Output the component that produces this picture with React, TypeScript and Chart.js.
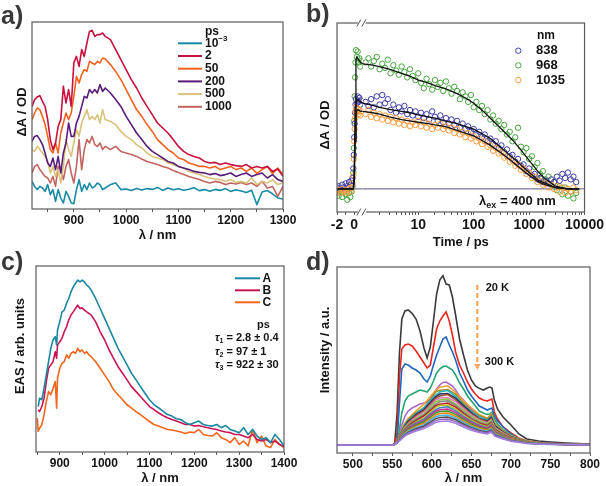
import React, { useEffect, useRef } from 'react';
import { Chart, registerables } from 'chart.js';

Chart.register(...registerables);

const FONT = "'Liberation Sans', Arial, Helvetica, sans-serif";
const INK = '#141414';
const FRAME = '#5a5a5a';

// ---------------- (a) transient spectra ----------------
const aWavelength = [820, 825, 830, 835, 840, 845, 850, 855, 860, 865, 870, 875, 880, 885, 890, 895, 900, 905, 910, 915, 920, 925, 930, 935, 940, 945, 950, 955, 960, 970, 980, 990, 1000, 1010, 1020, 1030, 1040, 1050, 1060, 1070, 1080, 1090, 1100, 1110, 1120, 1130, 1140, 1150, 1160, 1170, 1180, 1190, 1200, 1210, 1220, 1230, 1240, 1250, 1260, 1270, 1280, 1290, 1300];
const aTicks = [850, 900, 950, 1000, 1050, 1100, 1150, 1200, 1250, 1300];
const aLegend = ['10^-3', '2', '50', '200', '500', '1000'];
const aColors = ['#178aa6', '#c8103e', '#f4611f', '#591c78', '#d9c27c', '#c2645f'];
const aDelay0001 = [13.8, 11.3, 9.7, 11.3, 10.5, 8.8, 12.2, 7.2, 9.7, 3.8, 9.7, 5.5, 3.0, 8.8, 6.3, 3.0, 2.7, 9.7, 14.7, 8.8, 12.2, 9.7, 13, 10.5, 11.3, 13, 12.2, 9.7, 10.5, 12.2, 13, 9.7, 10, 9.2, 10.3, 9.5, 10.2, 9.8, 10.8, 9.3, 10.5, 9.6, 10.1, 9.4, 9.9, 10.6, 9.2, 9.7, 8.9, 9.8, 9.3, 10.2, 8.8, 9.6, 9.0, 8.2, 9.4, 2.2, 8.5, 9.2, 7.6, 5.5, 5.0];
const aDelay2 = [51.3, 54.7, 56, 56.7, 53.8, 51.3, 44.7, 34.7, 29.7, 33, 41.3, 44.7, 61.3, 53, 59.7, 51.3, 73, 76.3, 71.3, 79.7, 76.3, 83, 88.8, 89.3, 86.3, 87.2, 87.2, 88, 86.3, 84.7, 79.7, 74.7, 69.7, 64.7, 60.5, 55.5, 51.3, 47.2, 43, 40.5, 38, 34.7, 31.3, 28.8, 27.2, 26.3, 25.5, 23.8, 23, 23.3, 22.2, 23, 22.2, 21.7, 21.3, 22.2, 20.5, 21.3, 20.5, 21.3, 18.8, 20, 16.3];
const aDelay50 = [44.7, 48, 50.5, 49.7, 46.3, 42.2, 36.3, 29.7, 28, 33, 28, 38, 43, 48, 44.7, 48, 56.3, 66.3, 63, 67.2, 69.7, 68.8, 73.8, 73, 72.2, 73.8, 73, 75.5, 75, 72.2, 68.8, 64.7, 59.7, 54.7, 49.7, 46.3, 42.2, 38.8, 34.7, 32.2, 29.7, 28, 25.5, 24.7, 23, 22.2, 21.3, 21.3, 20.5, 21.3, 19.7, 20.5, 21.3, 19.7, 20.5, 18.8, 20.5, 17.8, 19.7, 21.3, 17.8, 20.5, 17.2];
const aDelay200 = [33.8, 36.3, 36.7, 34.7, 32.2, 28, 23, 21.3, 25.5, 19.7, 26.3, 18, 28, 33, 43, 36.3, 36.3, 43, 46.3, 51.3, 56.3, 55.5, 59.7, 58, 59.7, 58, 62.2, 58.8, 60.5, 58, 54.7, 51.3, 46.3, 42.2, 38, 34.7, 31.3, 28.8, 27.2, 25.5, 23.8, 23, 21.3, 20.5, 19.7, 18.8, 18.3, 18, 17.2, 17.7, 16.7, 17.2, 18, 16.3, 17.2, 18, 16.3, 17.2, 18, 15.5, 17.2, 14.7, 13.8];
const aDelay500 = [29.7, 28.8, 31.3, 29.7, 28, 26.3, 23.8, 18, 21.3, 16.3, 19.7, 13, 21.3, 34.7, 29.7, 26.3, 33, 39.7, 36.3, 43, 46.3, 49.7, 44.7, 46.3, 44.7, 47.2, 43, 49.7, 44.7, 43.8, 42.2, 38.8, 36.3, 34.7, 32.2, 30.5, 28, 26.3, 25.5, 24.7, 23, 22.2, 21.3, 20.5, 18.8, 18, 17.2, 16.3, 15.5, 15, 14.7, 13.8, 14.7, 13.3, 13.8, 13, 15.5, 12.2, 13.8, 13, 14.7, 12.2, 13];
const aDelay1000 = [18, 21.3, 22.2, 19.7, 18, 16.3, 15.5, 13, 16.3, 11.3, 21.3, 19.7, 14.7, 21.3, 24.7, 18, 13, 21.3, 34.7, 19.7, 29.7, 34.7, 33, 36.3, 32.2, 31.3, 33, 29.7, 31.3, 29.7, 31.3, 28.8, 28, 27.2, 26.3, 25, 23.8, 23, 22.2, 21.3, 20.5, 19.3, 18.3, 17.2, 16.3, 15.5, 14.7, 13.8, 13, 13.8, 13.3, 12.2, 13, 12.5, 13.3, 12.2, 13, 11.3, 13.8, 10.5, 11.3, 6.3, 11.3];

// ---------------- (b) kinetics ----------------
const bTimeLin = [-2, -1.8, -1.6, -1.4, -1.2, -1.0, -0.8, -0.6, -0.45, -0.3, -0.2, -0.1, -0.05, 0, 0.05, 0.1, 0.15, 0.2, 0.3, 0.4, 0.5, 0.6, 0.7, 0.85];
const b838Lin = [0.01, 0.02, 0.00, 0.03, 0.01, 0.04, 0.02, 0.05, 0.03, 0.06, 0.08, 0.15, 0.25, 0.38, 0.48, 0.56, 0.62, 0.66, 0.63, 0.68, 0.64, 0.67, 0.62, 0.65];
const b968Lin = [-0.03, -0.05, -0.01, -0.06, -0.02, -0.04, -0.08, -0.03, -0.06, -0.02, 0.02, 0.12, 0.3, 0.5, 0.68, 0.82, 0.93, 1.02, 0.97, 1.01, 0.93, 0.96, 0.90, 0.94];
const b1035Lin = [-0.02, -0.01, -0.03, 0.00, -0.02, -0.01, -0.03, 0.00, -0.02, 0.01, 0.04, 0.10, 0.22, 0.35, 0.44, 0.52, 0.57, 0.60, 0.56, 0.59, 0.55, 0.58, 0.54, 0.57];
const bTimeLog = [1.12, 1.26, 1.41, 1.58, 1.78, 2.0, 2.24, 2.51, 2.82, 3.16, 3.55, 3.98, 4.47, 5.01, 5.62, 6.31, 7.08, 7.94, 8.91, 10, 11.2, 12.6, 14.1, 15.8, 17.8, 20, 22.4, 25.1, 28.2, 31.6, 35.5, 39.8, 44.7, 50.1, 56.2, 63.1, 70.8, 79.4, 89.1, 100, 112, 126, 141, 158, 178, 200, 224, 251, 282, 316, 355, 398, 447, 501, 562, 631, 708, 794, 891, 1000, 1122, 1259, 1413, 1585, 1778, 1995, 2239, 2512, 2818, 3162, 3548, 3981, 4467, 5012, 5623, 6310, 7079];
const b968Log = [0.93, 0.96, 0.90, 0.94, 0.97, 0.88, 0.92, 0.89, 0.95, 0.85, 0.91, 0.87, 0.84, 0.90, 0.86, 0.82, 0.88, 0.83, 0.80, 0.85, 0.78, 0.74, 0.81, 0.77, 0.73, 0.80, 0.75, 0.78, 0.72, 0.79, 0.74, 0.70, 0.75, 0.72, 0.66, 0.71, 0.68, 0.64, 0.69, 0.60, 0.64, 0.58, 0.61, 0.55, 0.58, 0.51, 0.54, 0.48, 0.50, 0.44, 0.47, 0.40, 0.42, 0.35, 0.38, 0.45, 0.31, 0.27, 0.30, 0.22, 0.24, 0.16, 0.19, 0.11, 0.13, 0.07, 0.09, 0.03, 0.05, -0.01, 0.02, -0.04, 0.01, -0.05, -0.02, -0.07, -0.03];
const b838Log = [0.64, 0.61, 0.66, 0.60, 0.68, 0.62, 0.69, 0.63, 0.66, 0.58, 0.62, 0.56, 0.60, 0.57, 0.61, 0.55, 0.58, 0.54, 0.57, 0.53, 0.56, 0.52, 0.55, 0.51, 0.57, 0.53, 0.50, 0.54, 0.49, 0.52, 0.48, 0.51, 0.47, 0.50, 0.45, 0.48, 0.44, 0.46, 0.42, 0.44, 0.40, 0.42, 0.38, 0.40, 0.35, 0.37, 0.33, 0.35, 0.30, 0.32, 0.27, 0.29, 0.24, 0.25, 0.20, 0.22, 0.17, 0.18, 0.13, 0.15, 0.10, 0.11, 0.07, 0.08, 0.05, 0.06, 0.04, 0.07, 0.05, 0.09, 0.06, 0.11, 0.08, 0.12, 0.07, 0.09, 0.05];
const b1035Log = [0.55, 0.58, 0.53, 0.56, 0.52, 0.55, 0.51, 0.54, 0.50, 0.53, 0.49, 0.52, 0.48, 0.51, 0.47, 0.50, 0.46, 0.49, 0.47, 0.50, 0.46, 0.49, 0.45, 0.48, 0.44, 0.47, 0.45, 0.48, 0.44, 0.46, 0.43, 0.45, 0.41, 0.44, 0.40, 0.42, 0.38, 0.41, 0.37, 0.39, 0.35, 0.37, 0.33, 0.35, 0.31, 0.32, 0.28, 0.30, 0.26, 0.27, 0.23, 0.24, 0.20, 0.21, 0.17, 0.18, 0.14, 0.15, 0.11, 0.12, 0.08, 0.09, 0.05, 0.06, 0.03, 0.04, 0.01, 0.03, 0.00, 0.02, -0.02, 0.01, -0.03, 0.00, -0.02, 0.01, -0.01];
const bFitTimeLin = [-2, -0.1, 0, 0.1, 0.2, 0.3, 0.5, 0.75, 1.0];
const bFit838Lin = [0, 0, 0.08, 0.4, 0.62, 0.66, 0.65, 0.64, 0.63];
const bFit968Lin = [0, 0, 0.1, 0.6, 0.95, 0.97, 0.95, 0.93, 0.92];
const bFit1035Lin = [0, 0, 0.06, 0.35, 0.55, 0.58, 0.58, 0.57, 0.57];
const bFitTimeLog = [1, 1.5, 2, 3, 5, 7, 10, 15, 20, 30, 50, 70, 100, 150, 200, 300, 500, 700, 1000, 1500, 2000, 3000, 5000, 8000];
const bFit838Log = [0.63, 0.615, 0.60, 0.585, 0.57, 0.56, 0.545, 0.53, 0.52, 0.50, 0.48, 0.46, 0.44, 0.40, 0.37, 0.31, 0.23, 0.18, 0.12, 0.06, 0.04, 0.01, 0.0, 0.0];
const bFit968Log = [0.92, 0.91, 0.90, 0.88, 0.85, 0.83, 0.80, 0.78, 0.76, 0.74, 0.70, 0.67, 0.63, 0.57, 0.52, 0.45, 0.36, 0.29, 0.21, 0.12, 0.07, 0.02, 0.0, 0.0];
const bFit1035Log = [0.57, 0.56, 0.55, 0.53, 0.51, 0.50, 0.49, 0.48, 0.47, 0.46, 0.43, 0.41, 0.39, 0.35, 0.32, 0.27, 0.20, 0.15, 0.10, 0.05, 0.03, 0.01, 0.0, 0.0];
const bZeroLin = [-2, 1];
const bZeroLog = [1, 10000];
const bZeroValues = [0, 0];
const bLinTicks = [-2, -1, 0];
const bLinLabels = [-2, 0];
const bLogTicks = [2, 3, 4, 5, 6, 7, 8, 9, 10, 20, 30, 40, 50, 60, 70, 80, 90, 100, 200, 300, 400, 500, 600, 700, 800, 900, 1000, 2000, 3000, 4000, 5000, 6000, 7000, 8000, 9000, 10000];
const bLogLabels = [10, 100, 1000, 10000];
const bLegend = ['838', '968', '1035'];
const bColors = ['#3b3ba6', '#46a53c', '#fb9a3c'];

// ---------------- (c) EAS ----------------
const cWavelength = [850, 852, 855, 860, 865, 870, 875, 880, 885, 890, 893, 895, 900, 905, 910, 915, 920, 925, 930, 935, 940, 945, 950, 955, 960, 965, 970, 980, 990, 1000, 1010, 1020, 1030, 1040, 1050, 1060, 1070, 1080, 1090, 1100, 1110, 1120, 1130, 1140, 1150, 1160, 1170, 1180, 1190, 1200, 1210, 1220, 1230, 1240, 1250, 1260, 1270, 1280, 1290, 1300, 1310, 1320, 1330, 1340, 1350, 1360, 1370, 1380, 1390, 1400];
const cTicks = [850, 900, 950, 1000, 1050, 1100, 1150, 1200, 1250, 1300, 1350, 1400];
const cLegend = ['A', 'B', 'C'];
const cColors = ['#1a86a2', '#c81452', '#f2661e'];
const cEasA = [null, 22.8, 27, 26.2, 32, 38.7, 45.3, 52, 56.2, 57.8, 53.7, 61.2, 65.3, 70.3, 71.2, 74.5, 77, 80.3, 82.8, 84.5, 86.2, 85.3, 86.2, 85.3, 83.7, 82.8, 81.2, 77, 72, 67, 62, 57, 52, 47.8, 43.7, 39.5, 36.2, 32.8, 29.5, 26.2, 23.8, 22.2, 20.5, 18.8, 18, 16.7, 16.3, 14.7, 13.8, 14.7, 15.5, 13.8, 13.3, 13, 13.8, 12.2, 13.3, 11.3, 10.5, 9.7, 12.2, 8.8, 11.3, 8, 6.3, 7.2, 4.7, 8.8, 6.3, 3];
const cEasB = [null, 21.2, 20.3, 22.8, 27, 35.3, 42, 43.7, 45.3, 50.3, 47, 53.7, 55.3, 57, 60.3, 62.8, 66.2, 68.7, 70.3, 72, 73.7, 72, 72.3, 71.2, 70.3, 69.5, 68.7, 65.3, 60.3, 56.2, 51.2, 47, 42.8, 39.5, 36.2, 32.8, 30.3, 27.8, 25.3, 22.8, 21.3, 19.7, 18.3, 17.2, 16.3, 15.5, 14.7, 13.8, 13.8, 13, 13.3, 12.7, 12.2, 11.7, 11.3, 10.5, 10, 9.7, 8.8, 8.8, 8, 7.2, 8.8, 6.3, 5.5, 6.3, 4.7, 5.5, 3.8, 2.7];
const cEasC = [17, 10.3, 12, 13.7, 18.7, 25.3, 30.3, 28.7, 32, 35.3, 22, 37, 42, 44.5, 45.3, 48.7, 47, 49.5, 50.3, 49.5, 52, 50.3, 51.2, 49.5, 50.3, 48.7, 47.8, 45.3, 42, 38.7, 35.3, 31.2, 28.7, 26.2, 23.7, 22, 20.3, 18.7, 17, 15.3, 13.8, 13, 12.2, 11.3, 11, 10.5, 10, 9.3, 10, 9.7, 11.3, 8.8, 8.3, 8, 9.7, 7.2, 6.3, 4.7, 7.2, 3.8, 5.5, 3, 11.3, 4.7, 8, 3, 2.2, 6.3, 3.8, 2.2];
const cLifetimes = [
  { sub: '1', text: ' = 2.8 \u00b1 0.4' },
  { sub: '2', text: ' = 97 \u00b1 1' },
  { sub: '3', text: ' = 922 \u00b1 30' },
];

// ---------------- (d) PL vs temperature ----------------
const dFine = [480, 550, 553, 556, 559, 562, 566, 570, 575, 580, 585, 590, 594, 598, 602, 606, 610, 614, 618, 622, 626, 630, 635, 640, 645, 650, 655, 660, 665, 670, 673, 676, 679, 683, 690, 700, 710, 720, 735, 750, 770, 800];
const dCoarse = [480, 552, 556, 560, 565, 570, 575, 580, 590, 600, 605, 610, 620, 630, 640, 650, 660, 670, 675, 680, 690, 700, 720, 740, 770, 800];
const dTicks = [500, 525, 550, 575, 600, 625, 650, 675, 700, 725, 750, 775, 800];
const dMain = [
  { color: '#3a3a3a', y: [4.0, 4.0, 5.0, 20, 50, 67, 71, 71.5, 69.8, 67, 61, 52.5, 47.5, 53, 66, 79.5, 86.5, 88.7, 84.5, 84, 78, 69, 57, 49, 41.5, 36.5, 33.5, 32.3, 31.5, 32.5, 33, 32.5, 26.5, 22, 18, 14, 9.5, 7, 6, 5.5, 5, 4.5] },
  { color: '#e8261f', y: [4.0, 4.0, 4.3, 10, 38, 52, 54, 54.5, 53.5, 51, 48, 45, 42.5, 44, 53, 62, 66, 68.5, 70.5, 66, 59, 50.5, 44, 40, 35.5, 32, 29.5, 27.5, 26.5, 26, 26.5, 27, 20.5, 17, 13, 10, 7.5, 6, 5.2, 5, 4.6, 4.3] },
  { color: '#1f66c0', y: [4.0, 4.0, 4.2, 6, 25, 42, 44.5, 44, 42.5, 41.5, 40, 37, 35.5, 38.5, 44, 49, 53, 57, 58, 54, 50.5, 46.5, 40, 36, 31.5, 28.5, 26, 23.5, 22.5, 21.5, 22, 22.5, 18.5, 16, 13, 9.5, 7, 5.8, 5, 4.8, 4.5, 4.2] },
  { color: '#27a36f', y: [4.0, 4.0, 4.2, 5.5, 12, 20, 26, 28.5, 29.5, 30.5, 31.5, 31, 30.5, 32.5, 36, 40, 42, 43.2, 43.5, 42.5, 41.5, 39, 35, 32, 28.5, 26, 23.5, 21, 20, 19.3, 19.5, 20.5, 17, 14.5, 11.5, 9, 7, 5.8, 5, 4.6, 4.4, 4.2] },
  { color: '#a868cc', y: [4.0, 4.0, 4.2, 5, 9, 14, 18.5, 21, 22.5, 23.5, 24.5, 25, 25.5, 27, 29.5, 32, 34, 35.3, 35.5, 34.5, 33.5, 31.5, 28.5, 26.5, 24, 22, 20, 18.5, 17.5, 17, 17.5, 18.5, 15, 13, 10.5, 8.5, 6.8, 5.6, 5, 4.6, 4.4, 4.2] },
];
const dMinor = [
  { color: '#f0a030', y: [4, 4, 6.4, 9.9, 14.6, 17.3, 19.0, 21.1, 24.4, 29.1, 31.4, 32.9, 33.6, 30.4, 26.1, 22.6, 19.3, 17.4, 19.6, 14.6, 11.2, 8.7, 6.1, 4.9, 4.4, 4.1] },
  { color: '#a08a20', y: [4, 4, 6.2, 9.6, 13.5, 16.6, 18.9, 20.2, 22.7, 27.8, 30.6, 31.4, 31.8, 29.4, 25, 21.1, 18.6, 17.1, 18.9, 14.1, 11, 8.3, 6, 4.8, 4.4, 4.1] },
  { color: '#20b8c8', y: [4, 4, 6.0, 9.4, 13.7, 16.2, 17.8, 19.7, 22.6, 27, 29.1, 30.5, 31.2, 28.3, 24.0, 20.7, 18.2, 16.4, 18.2, 13.7, 10.6, 8.3, 5.9, 4.8, 4.4, 4.1] },
  { color: '#2c2c60', y: [4, 4, 6.1, 9.2, 13.1, 15.9, 17.5, 19.3, 21.7, 26.1, 28.2, 29.5, 29.8, 27.4, 23.7, 20.1, 17.3, 16, 17.8, 13.4, 10.5, 8.2, 5.8, 4.8, 4.4, 4.1] },
  { color: '#a0522d', y: [4, 4, 5.8, 9, 12.8, 15.1, 17, 18.7, 21, 25.3, 27.3, 28.5, 29.2, 26.5, 22.6, 19.5, 17.2, 15.5, 17.2, 13, 10.3, 8, 5.8, 4.8, 4.4, 4.1] },
  { color: '#e377c2', y: [4, 4, 5.9, 8.8, 12.4, 14.6, 16.5, 17.9, 20.5, 24.4, 26.4, 27.5, 27.8, 25.6, 22.2, 18.9, 16.4, 15, 16.7, 12.6, 10, 7.8, 5.7, 4.7, 4.4, 4.1] },
  { color: '#8cc63f', y: [4, 4, 5.8, 8.6, 12.1, 14.4, 15.8, 17.3, 19.6, 23.8, 25.6, 26.5, 27, 24.5, 21.3, 18.3, 16, 14.6, 16.2, 12.3, 9.8, 7.7, 5.6, 4.7, 4.3, 4.1] },
  { color: '#808080', y: [4, 4, 5.8, 8.4, 11.7, 13.9, 15.6, 16.8, 19, 22.7, 24.5, 25.6, 26.1, 23.8, 20.5, 17.6, 15.3, 14.1, 15.6, 11.9, 9.5, 7.5, 5.5, 4.7, 4.3, 4.1] },
  { color: '#b22222', y: [4, 4, 5.7, 8.2, 11.4, 13.3, 14.9, 16.2, 18.5, 21.9, 23.7, 24.4, 25, 22.9, 19.8, 16.8, 14.9, 13.7, 15.1, 11.6, 9.3, 7.4, 5.5, 4.6, 4.3, 4.1] },
  { color: '#bcbd22', y: [4, 4, 5.6, 8, 11, 13, 14.2, 15.6, 17.6, 21, 22.8, 23.7, 24, 22, 19, 16.4, 14.4, 13.2, 14.6, 11.2, 9, 7.2, 5.4, 4.6, 4.3, 4.1] },
  { color: '#3f7fbf', y: [4, 4, 5.5, 7.8, 10.7, 12.6, 13.9, 15.1, 16.9, 20.2, 21.7, 22.6, 23.1, 21.1, 18.3, 15.8, 13.9, 12.7, 14.1, 10.8, 8.8, 7, 5.3, 4.6, 4.3, 4.1] },
  { color: '#d62798', y: [4, 4, 5.4, 7.6, 10.3, 12.1, 13.4, 14.4, 16.2, 19.3, 20.9, 21.6, 22, 20.2, 17.5, 15.2, 13.4, 12.3, 13.6, 10.5, 8.5, 6.9, 5.3, 4.5, 4.3, 4.1] },
  { color: '#2ca02c', y: [4, 4, 5.4, 7.4, 10, 11.7, 12.8, 13.9, 15.6, 18.5, 20, 20.7, 21, 19.3, 16.8, 14.5, 12.8, 11.8, 13, 10.1, 8.3, 6.7, 5.2, 4.5, 4.3, 4.1] },
  { color: '#ff7f0e', y: [4, 4, 5.3, 7.2, 9.6, 11.2, 12.3, 13.3, 14.9, 17.6, 19, 19.7, 20, 18.4, 16, 13.9, 12.3, 11.4, 12.5, 9.8, 8, 6.6, 5.1, 4.5, 4.2, 4.1] },
  { color: '#41b6e6', y: [4, 4, 5.2, 7, 9.3, 10.8, 11.8, 12.7, 14.2, 16.8, 18.1, 18.7, 19, 17.5, 15.3, 13.3, 11.8, 10.9, 12, 9.4, 7.8, 6.4, 5.1, 4.5, 4.2, 4.1] },
  { color: '#505050', y: [4, 4, 5.1, 6.8, 8.9, 10.3, 11.3, 12.1, 13.5, 15.9, 17.2, 17.7, 18, 16.6, 14.5, 12.7, 11.3, 10.4, 11.5, 9, 7.5, 6.2, 5, 4.4, 4.2, 4.1] },
  { color: '#9467bd', y: [4, 4, 5, 6.6, 8.6, 9.9, 10.8, 11.5, 12.8, 15.1, 16.2, 16.7, 17, 15.7, 13.8, 12.1, 10.8, 10, 11, 8.7, 7.3, 6.1, 4.9, 4.4, 4.2, 4.1] },
  { color: '#a27ee0', y: [4, 4, 5, 6.4, 8.2, 9.4, 10.2, 11, 12.2, 14.2, 15.3, 15.8, 16, 14.8, 13, 11.4, 10.2, 9.5, 10.4, 8.3, 7, 5.9, 4.8, 4.4, 4.2, 4.1] },
];
const dArrow = { wavelength: 657.5, from: 84, to: 41.5 };
const dTempLabels = [
  { text: '20 K', wavelength: 668, value: 82.7 },
  { text: '300 K', wavelength: 667, value: 45.3 },
];

// ---------------- helpers ----------------
const pts = (xs: number[], ys: (number | null)[]) => xs.map((x, i) => ({ x, y: ys[i] === undefined ? null : ys[i] }));

type Part = { t: string; sub?: boolean; sup?: boolean; italic?: boolean };

function richText(ctx: CanvasRenderingContext2D, x: number, y: number, parts: Part[], size: number, align: 'left' | 'center' | 'right' = 'left') {
  const fontFor = (p: Part) => `${p.italic ? 'italic ' : ''}bold ${p.sub || p.sup ? Math.round(size * 0.68) : size}px ${FONT}`;
  let total = 0;
  for (const p of parts) {
    ctx.font = fontFor(p);
    total += ctx.measureText(p.t).width;
  }
  let cx = align === 'center' ? x - total / 2 : align === 'right' ? x - total : x;
  ctx.textAlign = 'left';
  ctx.textBaseline = 'middle';
  ctx.fillStyle = INK;
  for (const p of parts) {
    ctx.font = fontFor(p);
    const dy = p.sub ? size * 0.32 : p.sup ? -size * 0.36 : 0;
    ctx.fillText(p.t, cx, y + dy);
    cx += ctx.measureText(p.t).width;
  }
}

function drawFrame(chart: any) {
  const { ctx, chartArea: a } = chart;
  ctx.save();
  ctx.strokeStyle = FRAME;
  ctx.lineWidth = 1.2;
  ctx.strokeRect(a.left, a.top, a.right - a.left, a.bottom - a.top);
  ctx.restore();
}

function drawYTitle(ctx: CanvasRenderingContext2D, text: string, x: number, y: number) {
  ctx.save();
  ctx.translate(x, y);
  ctx.rotate(-Math.PI / 2);
  ctx.font = `bold 13px ${FONT}`;
  ctx.fillStyle = INK;
  ctx.textAlign = 'center';
  ctx.textBaseline = 'middle';
  ctx.fillText(text, 0, 0);
  ctx.restore();
}

function decor(id: string, draw: (chart: any) => void) {
  return {
    id,
    afterDraw: (chart: any) => {
      chart.ctx.save();
      draw(chart);
      chart.ctx.restore();
    },
  };
}

function bottomAxis(min: number, max: number, ticks: number[], label: (v: number) => string, height: number, fontSize: number, pad: number, title?: string): any {
  return {
    type: 'linear',
    position: 'bottom',
    min,
    max,
    afterBuildTicks: (s: any) => {
      s.ticks = ticks.map((value) => ({ value }));
    },
    afterFit: (s: any) => {
      s.height = height;
    },
    ticks: {
      autoSkip: false,
      maxRotation: 0,
      minRotation: 0,
      padding: pad,
      color: INK,
      font: { family: FONT, size: fontSize, weight: 'bold' },
      callback: (v: any) => label(Number(v)),
    },
    grid: { display: true, drawOnChartArea: false, drawTicks: true, tickLength: 3, tickWidth: 1, color: FRAME, lineWidth: 1 },
    border: { display: false },
    title: title
      ? { display: true, text: title, color: INK, font: { family: FONT, size: 13, weight: 'bold' }, padding: { top: 0, bottom: 0 } }
      : { display: false },
  };
}

function leftAxis(min: number, max: number, width: number): any {
  return {
    type: 'linear',
    position: 'left',
    min,
    max,
    ticks: { display: false },
    grid: { display: false },
    border: { display: false },
    title: { display: false },
    afterFit: (s: any) => {
      s.width = width;
    },
  };
}

function common(padding: any): any {
  return {
    responsive: false,
    maintainAspectRatio: false,
    animation: false,
    devicePixelRatio: 1,
    events: [],
    layout: { padding },
    plugins: { legend: { display: false }, tooltip: { enabled: false }, title: { display: false } },
  };
}

// ---------------- chart builders ----------------
function buildA(): any {
  const series = [aDelay0001, aDelay2, aDelay50, aDelay200, aDelay500, aDelay1000];
  return {
    type: 'line',
    data: {
      datasets: series.map((ys, i) => ({
        label: aLegend[i],
        data: pts(aWavelength, ys),
        borderColor: aColors[i],
        borderWidth: 1.6,
        borderJoinStyle: 'round',
        pointRadius: 0,
        tension: 0,
        fill: false,
      })),
    },
    options: {
      ...common({ top: 22, right: 20, left: 0, bottom: 0 }),
      scales: {
        x: bottomAxis(820, 1300, aTicks, (v) => (v % 100 === 0 ? String(v) : ''), 34, 12, 1, '\u03bb / nm'),
        y: leftAxis(0, 93.5, 32),
      },
    },
    plugins: [
      decor('decorA', (chart) => {
        const ctx = chart.ctx as CanvasRenderingContext2D;
        drawFrame(chart);
        drawYTitle(ctx, '\u0394A / OD', 22, 112);
        richText(ctx, 205, 32, [{ t: 'ps' }], 12);
        aLegend.forEach((lab, i) => {
          const y = 43.3 + i * 12.7;
          ctx.strokeStyle = aColors[i];
          ctx.lineWidth = 2;
          ctx.beginPath();
          ctx.moveTo(178, y);
          ctx.lineTo(202, y);
          ctx.stroke();
          if (lab.includes('^')) {
            const [base, exp] = lab.split('^');
            richText(ctx, 205, y, [{ t: base }, { t: exp.replace('-', '\u2212'), sup: true }], 12);
          } else {
            richText(ctx, 205, y, [{ t: lab }], 12);
          }
        });
      }),
    ],
  };
}

function buildB(): any {
  const mk = (xs: number[], ys: number[]) => xs.map((x, i) => ({ x, y: ys[i] }));
  const pointDs = (label: string, color: string, xs: number[], ys: number[], axis: string, order: number) => ({
    label,
    data: mk(xs, ys),
    xAxisID: axis,
    yAxisID: 'y',
    showLine: false,
    pointStyle: 'circle',
    pointRadius: 2.7,
    pointBorderWidth: 1,
    pointBorderColor: color,
    pointBackgroundColor: 'rgba(0,0,0,0)',
    borderColor: color,
    backgroundColor: 'rgba(0,0,0,0)',
    order,
  });
  const lineDs = (xs: number[], ys: number[], axis: string, color: string, width: number, order: number) => ({
    data: mk(xs, ys),
    xAxisID: axis,
    yAxisID: 'y',
    showLine: true,
    pointRadius: 0,
    borderColor: color,
    borderWidth: width,
    fill: false,
    order,
  });
  const datasets = [
    lineDs(bFitTimeLin, bFit968Lin, 'x0', '#111111', 1.3, 0),
    lineDs(bFitTimeLog, bFit968Log, 'x1', '#111111', 1.3, 0),
    lineDs(bFitTimeLin, bFit838Lin, 'x0', '#111111', 1.3, 0),
    lineDs(bFitTimeLog, bFit838Log, 'x1', '#111111', 1.3, 0),
    lineDs(bFitTimeLin, bFit1035Lin, 'x0', '#111111', 1.3, 0),
    lineDs(bFitTimeLog, bFit1035Log, 'x1', '#111111', 1.3, 0),
    pointDs(bLegend[2], bColors[2], bTimeLin, b1035Lin, 'x0', 1),
    pointDs(bLegend[2], bColors[2], bTimeLog, b1035Log, 'x1', 1),
    pointDs(bLegend[0], bColors[0], bTimeLin, b838Lin, 'x0', 2),
    pointDs(bLegend[0], bColors[0], bTimeLog, b838Log, 'x1', 2),
    pointDs(bLegend[1], bColors[1], bTimeLin, b968Lin, 'x0', 3),
    pointDs(bLegend[1], bColors[1], bTimeLog, b968Log, 'x1', 3),
    lineDs(bZeroLin, bZeroValues, 'x0', '#7d7598', 1.3, 9),
    lineDs(bZeroLog, bZeroValues, 'x1', '#7d7598', 1.3, 9),
  ];
  return {
    type: 'scatter',
    data: { datasets },
    options: {
      ...common({ top: 23, right: 20, left: 0, bottom: 0 }),
      scales: {
        x0: {
          ...bottomAxis(-2, 1, bLinTicks, (v) => (bLinLabels.includes(v) ? String(v) : ''), 40, 14, 2),
          stack: 'time',
          stackWeight: 26,
        },
        x1: {
          ...bottomAxis(1, 10000, bLogTicks, (v) => (bLogLabels.includes(v) ? String(v) : ''), 40, 14, 2),
          type: 'logarithmic',
          stack: 'time',
          stackWeight: 223,
        },
        y: leftAxis(-0.17, 1.22, 34),
      },
    },
    plugins: [
      decor('decorB', (chart) => {
        const ctx = chart.ctx as CanvasRenderingContext2D;
        const a = chart.chartArea;
        drawFrame(chart);
        // axis break marks
        const bx = chart.scales.x1.left;
        for (const y of [a.top, a.bottom]) {
          ctx.fillStyle = '#ffffff';
          ctx.fillRect(bx - 5, y - 2, 8, 4);
          ctx.strokeStyle = FRAME;
          ctx.lineWidth = 1;
          ctx.beginPath();
          ctx.moveTo(bx - 6, y + 3.5);
          ctx.lineTo(bx - 2, y - 3.5);
          ctx.moveTo(bx - 1, y + 3.5);
          ctx.lineTo(bx + 3, y - 3.5);
          ctx.stroke();
        }
        drawYTitle(ctx, '\u0394A / OD', 22, 125);
        richText(ctx, (a.left + a.right) / 2, 242, [{ t: 'Time / ps' }], 13, 'center');
        // legend
        richText(ctx, 234, 35.7, [{ t: 'nm' }], 12);
        const order = [0, 1, 2];
        order.forEach((i, k) => {
          const y = 50.7 + k * 14.7;
          ctx.strokeStyle = bColors[i];
          ctx.lineWidth = 1;
          ctx.beginPath();
          ctx.arc(215.3, y, 2.7, 0, Math.PI * 2);
          ctx.stroke();
          richText(ctx, 233, y, [{ t: bLegend[i] }], 13);
        });
        richText(ctx, 214.5, 201.7, [{ t: '\u03bb' }, { t: 'ex', sub: true }, { t: ' = 400 nm' }], 13, 'center');
      }),
    ],
  };
}

function buildC(): any {
  const series = [cEasA, cEasB, cEasC];
  return {
    type: 'line',
    data: {
      datasets: series.map((ys, i) => ({
        label: cLegend[i],
        data: pts(cWavelength, ys),
        borderColor: cColors[i],
        borderWidth: 1.6,
        borderJoinStyle: 'round',
        pointRadius: 0,
        tension: 0,
        fill: false,
        spanGaps: false,
      })),
    },
    options: {
      ...common({ top: 23, right: 19, left: 0, bottom: 0 }),
      scales: {
        x: bottomAxis(847, 1400, cTicks, (v) => (v % 100 === 0 ? String(v) : ''), 34, 12, 1, '\u03bb / nm'),
        y: leftAxis(0, 93.3, 36),
      },
    },
    plugins: [
      decor('decorC', (chart) => {
        const ctx = chart.ctx as CanvasRenderingContext2D;
        drawFrame(chart);
        drawYTitle(ctx, 'EAS / arb. units', 20, 103);
        cLegend.forEach((lab, i) => {
          const y = 35.3 + i * 12;
          ctx.strokeStyle = cColors[i];
          ctx.lineWidth = 2;
          ctx.beginPath();
          ctx.moveTo(235, y);
          ctx.lineTo(260, y);
          ctx.stroke();
          richText(ctx, 262.5, y, [{ t: lab }], 12);
        });
        richText(ctx, 257, 82, [{ t: 'ps' }], 11);
        cLifetimes.forEach((lt, i) => {
          richText(ctx, 215, 95 + i * 13.5, [{ t: '\u03c4', italic: true }, { t: lt.sub, sub: true }, { t: lt.text }], 11);
        });
      }),
    ],
  };
}

function buildD(): any {
  const n = dMain.length + dMinor.length;
  const datasets: any[] = [];
  dMain.forEach((s, i) => {
    datasets.push({ data: pts(dFine, s.y), borderColor: s.color, borderWidth: 1.6, pointRadius: 0, tension: 0, fill: false, order: n - i });
  });
  dMinor.forEach((s, i) => {
    datasets.push({ data: pts(dCoarse, s.y), borderColor: s.color, borderWidth: 1.5, pointRadius: 0, tension: 0, fill: false, order: n - dMain.length - i });
  });
  return {
    type: 'line',
    data: { datasets },
    options: {
      ...common({ top: 24, right: 16, left: 0, bottom: 0 }),
      scales: {
        x: bottomAxis(480, 800, dTicks, (v) => (v % 50 === 0 ? String(v) : ''), 33, 12, 1, '\u03bb / nm'),
        y: leftAxis(0, 93, 34),
      },
    },
    plugins: [
      decor('decorD', (chart) => {
        const ctx = chart.ctx as CanvasRenderingContext2D;
        const xs = chart.scales.x;
        const ys = chart.scales.y;
        drawFrame(chart);
        drawYTitle(ctx, 'Intensity / a.u.', 22, 107);
        const ax = xs.getPixelForValue(dArrow.wavelength);
        const y0 = ys.getPixelForValue(dArrow.from);
        const y1 = ys.getPixelForValue(dArrow.to);
        ctx.strokeStyle = '#f6a55e';
        ctx.lineWidth = 2.2;
        ctx.setLineDash([5, 3]);
        ctx.beginPath();
        ctx.moveTo(ax, y0);
        ctx.lineTo(ax, y1 - 6);
        ctx.stroke();
        ctx.setLineDash([]);
        ctx.fillStyle = '#f6a55e';
        ctx.beginPath();
        ctx.moveTo(ax - 3.2, y1 - 6);
        ctx.lineTo(ax + 3.2, y1 - 6);
        ctx.lineTo(ax, y1);
        ctx.closePath();
        ctx.fill();
        dTempLabels.forEach((l) => {
          richText(ctx, xs.getPixelForValue(l.wavelength), ys.getPixelForValue(l.value), [{ t: l.text }], 11);
        });
      }),
    ],
  };
}

function ChartBox({ left, top, width, height, build }: { left: number; top: number; width: number; height: number; build: () => any }) {
  const ref = useRef<HTMLCanvasElement | null>(null);
  useEffect(() => {
    const chart = new Chart(ref.current as HTMLCanvasElement, build());
    return () => chart.destroy();
  }, [build]);
  return (
    <div style={{ position: 'absolute', left, top, width, height }}>
      <canvas ref={ref} width={width} height={height} style={{ width, height, display: 'block' }} />
    </div>
  );
}

function PanelLetter({ text, left, top }: { text: string; left: number; top: number }) {
  return (
    <div style={{ position: 'absolute', left, top, font: `bold 25px ${FONT}`, lineHeight: '25px', color: '#383838' }}>{text}</div>
  );
}

export default function App() {
  return (
    <div style={{ position: 'relative', width: 606, height: 486, background: '#ffffff', overflow: 'hidden' }}>
      <style>{'html,body{margin:0;padding:0;background:#ffffff;}'}</style>
      <ChartBox left={0} top={0} width={303} height={243} build={buildA} />
      <ChartBox left={303} top={0} width={303} height={252} build={buildB} />
      <ChartBox left={0} top={243} width={303} height={243} build={buildC} />
      <ChartBox left={303} top={243} width={303} height={243} build={buildD} />
      <PanelLetter text="a)" left={1} top={3} />
      <PanelLetter text="b)" left={306} top={1} />
      <PanelLetter text="c)" left={1} top={249} />
      <PanelLetter text="d)" left={306} top={249} />
    </div>
  );
}
